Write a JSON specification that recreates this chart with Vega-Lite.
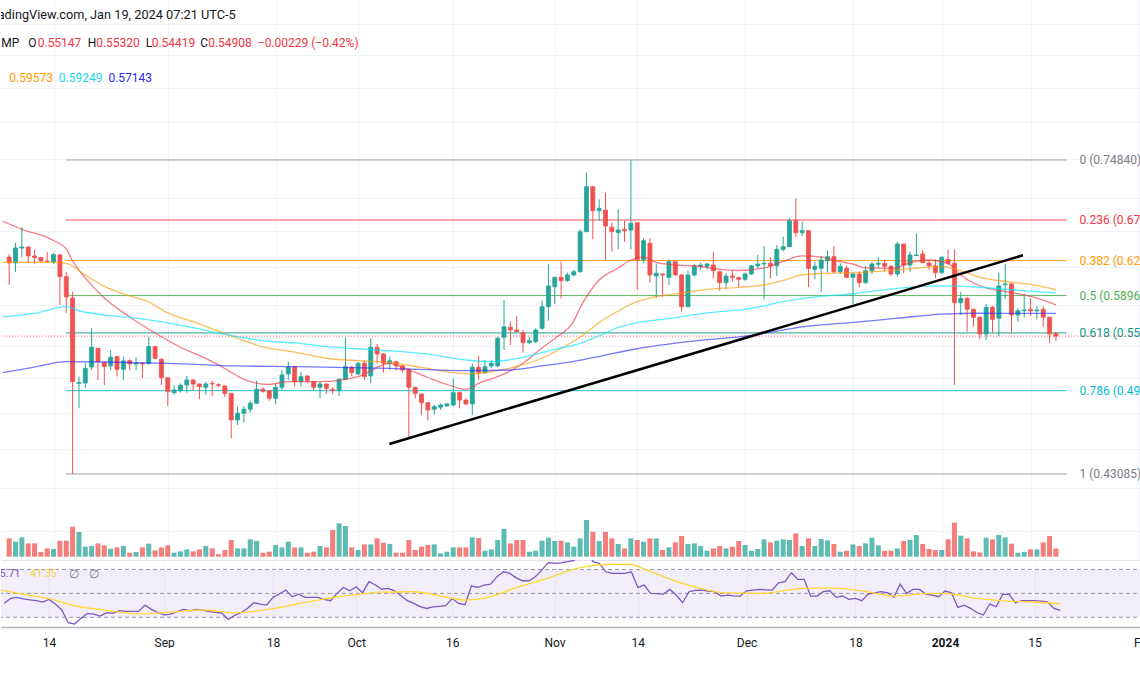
{
"$schema":"https://vega.github.io/schema/vega-lite/v6.json",
"padding":0,
"spacing":0,
"bounds":"flush",
"config":{"view":{"stroke":null},"font":"Roboto"},
"datasets":{
"candles":[
{"d":"2023-08-07","o":0.6310,"h":0.6344,"l":0.6007,"c":0.6244,"v":45.8,"r":41.8},
{"d":"2023-08-08","o":0.6244,"h":0.6468,"l":0.6146,"c":0.6411,"v":37.5,"r":45.8},
{"d":"2023-08-09","o":0.6411,"h":0.6652,"l":0.6310,"c":0.6422,"v":48.3,"r":46.7},
{"d":"2023-08-10","o":0.6422,"h":0.6434,"l":0.6244,"c":0.6322,"v":33.3,"r":45.5},
{"d":"2023-08-11","o":0.6322,"h":0.6388,"l":0.6233,"c":0.6305,"v":33.3,"r":44.5},
{"d":"2023-08-12","o":0.6305,"h":0.6310,"l":0.6255,"c":0.6266,"v":11.8,"r":43.9},
{"d":"2023-08-13","o":0.6266,"h":0.6366,"l":0.6244,"c":0.6261,"v":20.8,"r":42.7},
{"d":"2023-08-14","o":0.6255,"h":0.6355,"l":0.6233,"c":0.6338,"v":19.3,"r":45.0},
{"d":"2023-08-15","o":0.6333,"h":0.6344,"l":0.5800,"c":0.6096,"v":40,"r":41.1},
{"d":"2023-08-16","o":0.6095,"h":0.6146,"l":0.5719,"c":0.5882,"v":40,"r":36.1},
{"d":"2023-08-17","o":0.5871,"h":0.5937,"l":0.43085,"c":0.5068,"v":75,"r":25.5},
{"d":"2023-08-18","o":0.5052,"h":0.5113,"l":0.4836,"c":0.5061,"v":61.8,"r":24.3},
{"d":"2023-08-19","o":0.5056,"h":0.5237,"l":0.5012,"c":0.5188,"v":25,"r":29.1},
{"d":"2023-08-20","o":0.5200,"h":0.5567,"l":0.5173,"c":0.5384,"v":26.8,"r":33.3},
{"d":"2023-08-21","o":0.5374,"h":0.5377,"l":0.5083,"c":0.5249,"v":33.3,"r":32.7},
{"d":"2023-08-22","o":0.5240,"h":0.5249,"l":0.5038,"c":0.5203,"v":28.3,"r":31.0},
{"d":"2023-08-23","o":0.5210,"h":0.5358,"l":0.5173,"c":0.5290,"v":20,"r":33.8},
{"d":"2023-08-24","o":0.5296,"h":0.5302,"l":0.5113,"c":0.5179,"v":23.3,"r":33.3},
{"d":"2023-08-25","o":0.5179,"h":0.5296,"l":0.5083,"c":0.5256,"v":26.8,"r":35.5},
{"d":"2023-08-26","o":0.5258,"h":0.5271,"l":0.5173,"c":0.5228,"v":10,"r":34.9},
{"d":"2023-08-27","o":0.5228,"h":0.5290,"l":0.5173,"c":0.5237,"v":11.8,"r":34.9},
{"d":"2023-08-28","o":0.5237,"h":0.5240,"l":0.5098,"c":0.5228,"v":23.3,"r":34.9},
{"d":"2023-08-29","o":0.5234,"h":0.5485,"l":0.5219,"c":0.5390,"v":32.5,"r":40.2},
{"d":"2023-08-30","o":0.5390,"h":0.5395,"l":0.5271,"c":0.5281,"v":15.8,"r":36.6},
{"d":"2023-08-31","o":0.5271,"h":0.5281,"l":0.5038,"c":0.5103,"v":23.3,"r":34.0},
{"d":"2023-09-01","o":0.5103,"h":0.5108,"l":0.4856,"c":0.4979,"v":28.3,"r":32.1},
{"d":"2023-09-02","o":0.4971,"h":0.5038,"l":0.4951,"c":0.4994,"v":10,"r":32.7},
{"d":"2023-09-03","o":0.4988,"h":0.5053,"l":0.4971,"c":0.5036,"v":13.3,"r":34.7},
{"d":"2023-09-04","o":0.5038,"h":0.5119,"l":0.4971,"c":0.5083,"v":18.3,"r":36.6},
{"d":"2023-09-05","o":0.5083,"h":0.5088,"l":0.4988,"c":0.5047,"v":13.3,"r":35.5},
{"d":"2023-09-06","o":0.5047,"h":0.5053,"l":0.4913,"c":0.5023,"v":18.3,"r":36.6},
{"d":"2023-09-07","o":0.5018,"h":0.5068,"l":0.4951,"c":0.5047,"v":26.8,"r":36.1},
{"d":"2023-09-08","o":0.5053,"h":0.5077,"l":0.4942,"c":0.5047,"v":20.8,"r":34.7},
{"d":"2023-09-09","o":0.5041,"h":0.5053,"l":0.5018,"c":0.5036,"v":6.3,"r":34.2},
{"d":"2023-09-10","o":0.5030,"h":0.5034,"l":0.4931,"c":0.4965,"v":16.8,"r":33.5},
{"d":"2023-09-11","o":0.4965,"h":0.4968,"l":0.4586,"c":0.4738,"v":41.8,"r":28.2},
{"d":"2023-09-12","o":0.4738,"h":0.4850,"l":0.4696,"c":0.4794,"v":20.8,"r":31.6},
{"d":"2023-09-13","o":0.4794,"h":0.4856,"l":0.4715,"c":0.4828,"v":20.8,"r":33.8},
{"d":"2023-09-14","o":0.4828,"h":0.4901,"l":0.4799,"c":0.4879,"v":43.3,"r":37.4},
{"d":"2023-09-15","o":0.4879,"h":0.5077,"l":0.4873,"c":0.5000,"v":39.3,"r":42.2},
{"d":"2023-09-16","o":0.5000,"h":0.5018,"l":0.4971,"c":0.4983,"v":10,"r":41.0},
{"d":"2023-09-17","o":0.4988,"h":0.4990,"l":0.4901,"c":0.4922,"v":12.5,"r":40.2},
{"d":"2023-09-18","o":0.4922,"h":0.5053,"l":0.4873,"c":0.5018,"v":29.3,"r":46.7},
{"d":"2023-09-19","o":0.5018,"h":0.5173,"l":0.4994,"c":0.5128,"v":23.3,"r":49.5},
{"d":"2023-09-20","o":0.5137,"h":0.5249,"l":0.5083,"c":0.5198,"v":37.5,"r":52.8},
{"d":"2023-09-21","o":0.5203,"h":0.5210,"l":0.5023,"c":0.5068,"v":23.3,"r":47.2},
{"d":"2023-09-22","o":0.5068,"h":0.5158,"l":0.5023,"c":0.5113,"v":23.3,"r":49.4},
{"d":"2023-09-23","o":0.5119,"h":0.5122,"l":0.5053,"c":0.5077,"v":10,"r":46.7},
{"d":"2023-09-24","o":0.5068,"h":0.5070,"l":0.4988,"c":0.5018,"v":12.5,"r":46.7},
{"d":"2023-09-25","o":0.5018,"h":0.5068,"l":0.4922,"c":0.5047,"v":26.8,"r":46.7},
{"d":"2023-09-26","o":0.5047,"h":0.5053,"l":0.4959,"c":0.5009,"v":23.3,"r":45.0},
{"d":"2023-09-27","o":0.5000,"h":0.5018,"l":0.4959,"c":0.4988,"v":66.8,"r":43.9},
{"d":"2023-09-28","o":0.4988,"h":0.5098,"l":0.4942,"c":0.5089,"v":83.3,"r":50.0},
{"d":"2023-09-29","o":0.5089,"h":0.5479,"l":0.5083,"c":0.5203,"v":76.8,"r":55.0},
{"d":"2023-09-30","o":0.5198,"h":0.5210,"l":0.5119,"c":0.5149,"v":23.3,"r":52.2},
{"d":"2023-10-01","o":0.5137,"h":0.5246,"l":0.5125,"c":0.5234,"v":16.8,"r":55.6},
{"d":"2023-10-02","o":0.5234,"h":0.5258,"l":0.5083,"c":0.5113,"v":30.8,"r":50.6},
{"d":"2023-10-03","o":0.5119,"h":0.5470,"l":0.5053,"c":0.5384,"v":30.8,"r":59.8},
{"d":"2023-10-04","o":0.5384,"h":0.5415,"l":0.5234,"c":0.5321,"v":45.8,"r":57.0},
{"d":"2023-10-05","o":0.5321,"h":0.5327,"l":0.5149,"c":0.5234,"v":35,"r":53.5},
{"d":"2023-10-06","o":0.5234,"h":0.5296,"l":0.5173,"c":0.5258,"v":31.8,"r":54.2},
{"d":"2023-10-07","o":0.5249,"h":0.5258,"l":0.5167,"c":0.5210,"v":10,"r":52.2},
{"d":"2023-10-08","o":0.5210,"h":0.5219,"l":0.5149,"c":0.5173,"v":10,"r":48.0},
{"d":"2023-10-09","o":0.5173,"h":0.5188,"l":0.4596,"c":0.5018,"v":41.8,"r":43.9},
{"d":"2023-10-10","o":0.5018,"h":0.5020,"l":0.4922,"c":0.4965,"v":16.8,"r":41.6},
{"d":"2023-10-11","o":0.4959,"h":0.4961,"l":0.4780,"c":0.4884,"v":25,"r":39.0},
{"d":"2023-10-12","o":0.4884,"h":0.4886,"l":0.4732,"c":0.4822,"v":29.3,"r":37.4},
{"d":"2023-10-13","o":0.4828,"h":0.4864,"l":0.4780,"c":0.4850,"v":30.8,"r":38.8},
{"d":"2023-10-14","o":0.4845,"h":0.4879,"l":0.4822,"c":0.4864,"v":8.3,"r":39.2},
{"d":"2023-10-15","o":0.4856,"h":0.4884,"l":0.4850,"c":0.4873,"v":12.5,"r":39.7},
{"d":"2023-10-16","o":0.4864,"h":0.5098,"l":0.4850,"c":0.4971,"v":23.3,"r":45.8},
{"d":"2023-10-17","o":0.4971,"h":0.4979,"l":0.4836,"c":0.4907,"v":23.3,"r":41.6},
{"d":"2023-10-18","o":0.4907,"h":0.4922,"l":0.4864,"c":0.4873,"v":23.3,"r":40.5},
{"d":"2023-10-19","o":0.4873,"h":0.5234,"l":0.4780,"c":0.5198,"v":48.3,"r":56.1},
{"d":"2023-10-20","o":0.5198,"h":0.5302,"l":0.5083,"c":0.5149,"v":46.8,"r":55.0},
{"d":"2023-10-21","o":0.5149,"h":0.5265,"l":0.5137,"c":0.5203,"v":15,"r":57.0},
{"d":"2023-10-22","o":0.5210,"h":0.5265,"l":0.5188,"c":0.5234,"v":18.3,"r":57.8},
{"d":"2023-10-23","o":0.5210,"h":0.5485,"l":0.5198,"c":0.5470,"v":41.8,"r":64.0},
{"d":"2023-10-24","o":0.5479,"h":0.5851,"l":0.5358,"c":0.5582,"v":69.3,"r":68.1},
{"d":"2023-10-25","o":0.5577,"h":0.5632,"l":0.5406,"c":0.5550,"v":33.3,"r":66.7},
{"d":"2023-10-26","o":0.5550,"h":0.5689,"l":0.5530,"c":0.5533,"v":41.8,"r":63.0},
{"d":"2023-10-27","o":0.5524,"h":0.5550,"l":0.5333,"c":0.5428,"v":41.8,"r":60.6},
{"d":"2023-10-28","o":0.5428,"h":0.5485,"l":0.5415,"c":0.5447,"v":12.5,"r":60.6},
{"d":"2023-10-29","o":0.5437,"h":0.5567,"l":0.5422,"c":0.5550,"v":15,"r":63.9},
{"d":"2023-10-30","o":0.5567,"h":0.5843,"l":0.5550,"c":0.5782,"v":40,"r":69.5},
{"d":"2023-10-31","o":0.5782,"h":0.6233,"l":0.5642,"c":0.5997,"v":47.5,"r":75.7},
{"d":"2023-11-01","o":0.5989,"h":0.6096,"l":0.5810,"c":0.6089,"v":39.3,"r":75.1},
{"d":"2023-11-02","o":0.6089,"h":0.6258,"l":0.5868,"c":0.6053,"v":40,"r":75.5},
{"d":"2023-11-03","o":0.6053,"h":0.6139,"l":0.6042,"c":0.6114,"v":35.8,"r":76.5},
{"d":"2023-11-04","o":0.6114,"h":0.6168,"l":0.6096,"c":0.6149,"v":25,"r":77.5},
{"d":"2023-11-05","o":0.6149,"h":0.6625,"l":0.6139,"c":0.6598,"v":45.8,"r":82.0},
{"d":"2023-11-06","o":0.6598,"h":0.7319,"l":0.6590,"c":0.7141,"v":91.8,"r":86.0},
{"d":"2023-11-07","o":0.7141,"h":0.7150,"l":0.6510,"c":0.6846,"v":62.5,"r":76.5},
{"d":"2023-11-08","o":0.6846,"h":0.6984,"l":0.6726,"c":0.6875,"v":39.3,"r":75.1},
{"d":"2023-11-09","o":0.6854,"h":0.7066,"l":0.6277,"c":0.6664,"v":62.5,"r":68.1},
{"d":"2023-11-10","o":0.6649,"h":0.6703,"l":0.6370,"c":0.6598,"v":45.8,"r":66.7},
{"d":"2023-11-11","o":0.6586,"h":0.6863,"l":0.6396,"c":0.6617,"v":31.8,"r":66.7},
{"d":"2023-11-12","o":0.6625,"h":0.6726,"l":0.6482,"c":0.6609,"v":20.8,"r":66.7},
{"d":"2023-11-13","o":0.6617,"h":0.7484,"l":0.6396,"c":0.6696,"v":45.8,"r":68.1},
{"d":"2023-11-14","o":0.6703,"h":0.6705,"l":0.5954,"c":0.6277,"v":41.8,"r":55.0},
{"d":"2023-11-15","o":0.6277,"h":0.6521,"l":0.6241,"c":0.6494,"v":37.5,"r":57.0},
{"d":"2023-11-16","o":0.6464,"h":0.6521,"l":0.6032,"c":0.6114,"v":45.8,"r":50.0},
{"d":"2023-11-17","o":0.6103,"h":0.6233,"l":0.5868,"c":0.6132,"v":45.8,"r":49.8},
{"d":"2023-11-18","o":0.6125,"h":0.6132,"l":0.5885,"c":0.6114,"v":16.8,"r":49.4},
{"d":"2023-11-19","o":0.6089,"h":0.6285,"l":0.6007,"c":0.6258,"v":23.3,"r":53.3},
{"d":"2023-11-20","o":0.6258,"h":0.6260,"l":0.6103,"c":0.6114,"v":35.8,"r":48.6},
{"d":"2023-11-21","o":0.6114,"h":0.6125,"l":0.5732,"c":0.5782,"v":51.8,"r":42.2},
{"d":"2023-11-22","o":0.5782,"h":0.6160,"l":0.5780,"c":0.6114,"v":31.8,"r":51.4},
{"d":"2023-11-23","o":0.6114,"h":0.6233,"l":0.6096,"c":0.6213,"v":33.3,"r":52.5},
{"d":"2023-11-24","o":0.6207,"h":0.6247,"l":0.6168,"c":0.6222,"v":26.8,"r":52.8},
{"d":"2023-11-25","o":0.6207,"h":0.6247,"l":0.6175,"c":0.6233,"v":15,"r":52.0},
{"d":"2023-11-26","o":0.6222,"h":0.6370,"l":0.6078,"c":0.6160,"v":20.8,"r":51.4},
{"d":"2023-11-27","o":0.6149,"h":0.6160,"l":0.5947,"c":0.6032,"v":26.8,"r":47.8},
{"d":"2023-11-28","o":0.6032,"h":0.6132,"l":0.5962,"c":0.6103,"v":20.8,"r":48.6},
{"d":"2023-11-29","o":0.6103,"h":0.6160,"l":0.6042,"c":0.6089,"v":25,"r":48.0},
{"d":"2023-11-30","o":0.6085,"h":0.6096,"l":0.5983,"c":0.6068,"v":39.3,"r":47.8},
{"d":"2023-12-01","o":0.6068,"h":0.6139,"l":0.6053,"c":0.6125,"v":29.3,"r":52.2},
{"d":"2023-12-02","o":0.6125,"h":0.6222,"l":0.6114,"c":0.6213,"v":15,"r":52.8},
{"d":"2023-12-03","o":0.6213,"h":0.6333,"l":0.6186,"c":0.6233,"v":19.3,"r":53.3},
{"d":"2023-12-04","o":0.6233,"h":0.6434,"l":0.5858,"c":0.6241,"v":43.3,"r":53.0},
{"d":"2023-12-05","o":0.6241,"h":0.6308,"l":0.6078,"c":0.6213,"v":35.8,"r":52.8},
{"d":"2023-12-06","o":0.6213,"h":0.6445,"l":0.6103,"c":0.6396,"v":40,"r":58.9},
{"d":"2023-12-07","o":0.6396,"h":0.6540,"l":0.6370,"c":0.6426,"v":43.3,"r":59.8},
{"d":"2023-12-08","o":0.6426,"h":0.6755,"l":0.6419,"c":0.6726,"v":41.8,"r":67.3},
{"d":"2023-12-09","o":0.6726,"h":0.6997,"l":0.6533,"c":0.6586,"v":58.3,"r":61.7},
{"d":"2023-12-10","o":0.6586,"h":0.6715,"l":0.6548,"c":0.6609,"v":26.8,"r":61.7},
{"d":"2023-12-11","o":0.6609,"h":0.6611,"l":0.5983,"c":0.6186,"v":45.8,"r":47.8},
{"d":"2023-12-12","o":0.6175,"h":0.6258,"l":0.6068,"c":0.6207,"v":26.8,"r":47.8},
{"d":"2023-12-13","o":0.6186,"h":0.6322,"l":0.5937,"c":0.6277,"v":44.3,"r":51.4},
{"d":"2023-12-14","o":0.6269,"h":0.6381,"l":0.6139,"c":0.6314,"v":40.8,"r":52.2},
{"d":"2023-12-15","o":0.6314,"h":0.6434,"l":0.6132,"c":0.6149,"v":31.8,"r":46.7},
{"d":"2023-12-16","o":0.6149,"h":0.6241,"l":0.6125,"c":0.6207,"v":12.5,"r":47.8},
{"d":"2023-12-17","o":0.6186,"h":0.6213,"l":0.6078,"c":0.6089,"v":15,"r":45.0},
{"d":"2023-12-18","o":0.6089,"h":0.6132,"l":0.5810,"c":0.6125,"v":30.8,"r":45.8},
{"d":"2023-12-19","o":0.6125,"h":0.6149,"l":0.5983,"c":0.6032,"v":26.8,"r":43.9},
{"d":"2023-12-20","o":0.6032,"h":0.6213,"l":0.6018,"c":0.6160,"v":33.3,"r":49.4},
{"d":"2023-12-21","o":0.6160,"h":0.6258,"l":0.6125,"c":0.6233,"v":47.5,"r":50.5},
{"d":"2023-12-22","o":0.6230,"h":0.6307,"l":0.6186,"c":0.6241,"v":28.3,"r":51.4},
{"d":"2023-12-23","o":0.6241,"h":0.6285,"l":0.6149,"c":0.6207,"v":15,"r":50.6},
{"d":"2023-12-24","o":0.6207,"h":0.6222,"l":0.6103,"c":0.6125,"v":15,"r":46.7},
{"d":"2023-12-25","o":0.6125,"h":0.6482,"l":0.6096,"c":0.6456,"v":20.8,"r":57.8},
{"d":"2023-12-26","o":0.6456,"h":0.6458,"l":0.6132,"c":0.6222,"v":39.3,"r":50.0},
{"d":"2023-12-27","o":0.6222,"h":0.6370,"l":0.6149,"c":0.6333,"v":41.8,"r":53.3},
{"d":"2023-12-28","o":0.6325,"h":0.6578,"l":0.6322,"c":0.6333,"v":54.3,"r":53.3},
{"d":"2023-12-29","o":0.6344,"h":0.6388,"l":0.6241,"c":0.6248,"v":31.8,"r":49.4},
{"d":"2023-12-30","o":0.6244,"h":0.6277,"l":0.6168,"c":0.6213,"v":19.3,"r":48.6},
{"d":"2023-12-31","o":0.6213,"h":0.6285,"l":0.6078,"c":0.6139,"v":16.8,"r":47.2},
{"d":"2024-01-01","o":0.6139,"h":0.6316,"l":0.6125,"c":0.6308,"v":16.8,"r":52.0},
{"d":"2024-01-02","o":0.6285,"h":0.6396,"l":0.6222,"c":0.6241,"v":43.3,"r":50.6},
{"d":"2024-01-03","o":0.6241,"h":0.6396,"l":0.5038,"c":0.5823,"v":85,"r":38.3},
{"d":"2024-01-04","o":0.5823,"h":0.5934,"l":0.5699,"c":0.5868,"v":52.5,"r":40.2},
{"d":"2024-01-05","o":0.5868,"h":0.5879,"l":0.5533,"c":0.5756,"v":45.8,"r":37.5},
{"d":"2024-01-06","o":0.5756,"h":0.5758,"l":0.5582,"c":0.5676,"v":13.3,"r":34.0},
{"d":"2024-01-07","o":0.5676,"h":0.5682,"l":0.5460,"c":0.5511,"v":10.8,"r":31.9},
{"d":"2024-01-08","o":0.5511,"h":0.5810,"l":0.5453,"c":0.5776,"v":47.5,"r":41.1},
{"d":"2024-01-09","o":0.5776,"h":0.5789,"l":0.5524,"c":0.5655,"v":43.3,"r":38.8},
{"d":"2024-01-10","o":0.5666,"h":0.6139,"l":0.5492,"c":0.5997,"v":54.3,"r":49.2},
{"d":"2024-01-11","o":0.6010,"h":0.6233,"l":0.5858,"c":0.6018,"v":48.3,"r":49.2},
{"d":"2024-01-12","o":0.6018,"h":0.6025,"l":0.5518,"c":0.5699,"v":32.5,"r":42.2},
{"d":"2024-01-13","o":0.5699,"h":0.5766,"l":0.5632,"c":0.5741,"v":10,"r":43.9},
{"d":"2024-01-14","o":0.5741,"h":0.5913,"l":0.5676,"c":0.5749,"v":11.8,"r":43.9},
{"d":"2024-01-15","o":0.5756,"h":0.5868,"l":0.5689,"c":0.5741,"v":18.3,"r":43.9},
{"d":"2024-01-16","o":0.5741,"h":0.5789,"l":0.5655,"c":0.5749,"v":18.3,"r":43.5},
{"d":"2024-01-17","o":0.5756,"h":0.5789,"l":0.5582,"c":0.5676,"v":35.8,"r":43.0},
{"d":"2024-01-18","o":0.5676,"h":0.5682,"l":0.5422,"c":0.5511,"v":51.8,"r":37.4},
{"d":"2024-01-19","o":0.55147,"h":0.55320,"l":0.54419,"c":0.54908,"v":20.8,"r":35.7}
],
"ma":[
{"d":"2023-08-06","m":"ma1","p":0.6720},{"d":"2023-08-09","m":"ma1","p":0.6625},{"d":"2023-08-14","m":"ma1","p":0.6496},{"d":"2023-08-16","m":"ma1","p":0.6400},{"d":"2023-08-17","m":"ma1","p":0.6266},{"d":"2023-08-19","m":"ma1","p":0.6082},{"d":"2023-08-22","m":"ma1","p":0.5871},{"d":"2023-08-26","m":"ma1","p":0.5679},{"d":"2023-08-30","m":"ma1","p":0.5521},{"d":"2023-09-03","m":"ma1","p":0.5384},{"d":"2023-09-07","m":"ma1","p":0.5279},{"d":"2023-09-10","m":"ma1","p":0.5187},{"d":"2023-09-13","m":"ma1","p":0.5089},{"d":"2023-09-17","m":"ma1","p":0.5043},{"d":"2023-09-20","m":"ma1","p":0.5069},{"d":"2023-09-25","m":"ma1","p":0.5068},{"d":"2023-10-01","m":"ma1","p":0.5113},{"d":"2023-10-06","m":"ma1","p":0.5233},{"d":"2023-10-08","m":"ma1","p":0.5198},{"d":"2023-10-12","m":"ma1","p":0.5105},{"d":"2023-10-15","m":"ma1","p":0.5043},{"d":"2023-10-18","m":"ma1","p":0.5000},{"d":"2023-10-20","m":"ma1","p":0.5053},{"d":"2023-10-23","m":"ma1","p":0.5113},{"d":"2023-10-27","m":"ma1","p":0.5234},{"d":"2023-10-30","m":"ma1","p":0.5377},{"d":"2023-11-01","m":"ma1","p":0.5468},{"d":"2023-11-04","m":"ma1","p":0.5639},{"d":"2023-11-05","m":"ma1","p":0.5769},{"d":"2023-11-06","m":"ma1","p":0.5882},{"d":"2023-11-08","m":"ma1","p":0.6060},{"d":"2023-11-11","m":"ma1","p":0.6190},{"d":"2023-11-13","m":"ma1","p":0.6277},{"d":"2023-11-15","m":"ma1","p":0.6308},{"d":"2023-11-17","m":"ma1","p":0.6250},{"d":"2023-11-20","m":"ma1","p":0.6222},{"d":"2023-11-23","m":"ma1","p":0.6211},{"d":"2023-11-27","m":"ma1","p":0.6175},{"d":"2023-11-30","m":"ma1","p":0.6162},{"d":"2023-12-04","m":"ma1","p":0.6190},{"d":"2023-12-07","m":"ma1","p":0.6261},{"d":"2023-12-10","m":"ma1","p":0.6322},{"d":"2023-12-13","m":"ma1","p":0.6308},{"d":"2023-12-16","m":"ma1","p":0.6258},{"d":"2023-12-18","m":"ma1","p":0.6233},{"d":"2023-12-20","m":"ma1","p":0.6190},{"d":"2023-12-24","m":"ma1","p":0.6186},{"d":"2023-12-28","m":"ma1","p":0.6266},{"d":"2023-12-30","m":"ma1","p":0.6277},{"d":"2024-01-02","m":"ma1","p":0.6241},{"d":"2024-01-04","m":"ma1","p":0.6114},{"d":"2024-01-06","m":"ma1","p":0.6028},{"d":"2024-01-08","m":"ma1","p":0.5976},{"d":"2024-01-11","m":"ma1","p":0.5939},{"d":"2024-01-14","m":"ma1","p":0.5903},{"d":"2024-01-16","m":"ma1","p":0.5871},{"d":"2024-01-19","m":"ma1","p":0.5800},
{"d":"2023-08-06","m":"ma2","p":0.6250},{"d":"2023-08-14","m":"ma2","p":0.6250},{"d":"2023-08-16","m":"ma2","p":0.6239},{"d":"2023-08-19","m":"ma2","p":0.6114},{"d":"2023-08-22","m":"ma2","p":0.5993},{"d":"2023-08-26","m":"ma2","p":0.5892},{"d":"2023-08-29","m":"ma2","p":0.5830},{"d":"2023-09-01","m":"ma2","p":0.5719},{"d":"2023-09-05","m":"ma2","p":0.5632},{"d":"2023-09-09","m":"ma2","p":0.5538},{"d":"2023-09-12","m":"ma2","p":0.5470},{"d":"2023-09-16","m":"ma2","p":0.5387},{"d":"2023-09-21","m":"ma2","p":0.5339},{"d":"2023-09-26","m":"ma2","p":0.5281},{"d":"2023-10-01","m":"ma2","p":0.5258},{"d":"2023-10-06","m":"ma2","p":0.5242},{"d":"2023-10-11","m":"ma2","p":0.5196},{"d":"2023-10-16","m":"ma2","p":0.5149},{"d":"2023-10-19","m":"ma2","p":0.5137},{"d":"2023-10-22","m":"ma2","p":0.5158},{"d":"2023-10-26","m":"ma2","p":0.5205},{"d":"2023-10-30","m":"ma2","p":0.5281},{"d":"2023-11-02","m":"ma2","p":0.5372},{"d":"2023-11-05","m":"ma2","p":0.5482},{"d":"2023-11-08","m":"ma2","p":0.5624},{"d":"2023-11-11","m":"ma2","p":0.5739},{"d":"2023-11-14","m":"ma2","p":0.5833},{"d":"2023-11-17","m":"ma2","p":0.5885},{"d":"2023-11-21","m":"ma2","p":0.5923},{"d":"2023-11-25","m":"ma2","p":0.5960},{"d":"2023-11-30","m":"ma2","p":0.5983},{"d":"2023-12-04","m":"ma2","p":0.6007},{"d":"2023-12-07","m":"ma2","p":0.6055},{"d":"2023-12-10","m":"ma2","p":0.6114},{"d":"2023-12-14","m":"ma2","p":0.6132},{"d":"2023-12-18","m":"ma2","p":0.6139},{"d":"2023-12-25","m":"ma2","p":0.6168},{"d":"2024-01-01","m":"ma2","p":0.6207},{"d":"2024-01-04","m":"ma2","p":0.6159},{"d":"2024-01-07","m":"ma2","p":0.6092},{"d":"2024-01-11","m":"ma2","p":0.6044},{"d":"2024-01-15","m":"ma2","p":0.6013},{"d":"2024-01-19","m":"ma2","p":0.5957},
{"d":"2023-08-06","m":"ma3","p":0.5679},{"d":"2023-08-11","m":"ma3","p":0.5714},{"d":"2023-08-16","m":"ma3","p":0.5782},{"d":"2023-08-18","m":"ma3","p":0.5741},{"d":"2023-08-22","m":"ma3","p":0.5699},{"d":"2023-08-27","m":"ma3","p":0.5667},{"d":"2023-09-01","m":"ma3","p":0.5619},{"d":"2023-09-07","m":"ma3","p":0.5547},{"d":"2023-09-12","m":"ma3","p":0.5485},{"d":"2023-09-17","m":"ma3","p":0.5439},{"d":"2023-09-21","m":"ma3","p":0.5426},{"d":"2023-09-26","m":"ma3","p":0.5390},{"d":"2023-10-04","m":"ma3","p":0.5358},{"d":"2023-10-12","m":"ma3","p":0.5319},{"d":"2023-10-18","m":"ma3","p":0.5265},{"d":"2023-10-22","m":"ma3","p":0.5249},{"d":"2023-10-27","m":"ma3","p":0.5290},{"d":"2023-11-01","m":"ma3","p":0.5365},{"d":"2023-11-05","m":"ma3","p":0.5422},{"d":"2023-11-08","m":"ma3","p":0.5492},{"d":"2023-11-11","m":"ma3","p":0.5575},{"d":"2023-11-14","m":"ma3","p":0.5622},{"d":"2023-11-19","m":"ma3","p":0.5663},{"d":"2023-11-25","m":"ma3","p":0.5719},{"d":"2023-12-02","m":"ma3","p":0.5766},{"d":"2023-12-07","m":"ma3","p":0.5833},{"d":"2023-12-12","m":"ma3","p":0.5882},{"d":"2023-12-18","m":"ma3","p":0.5915},{"d":"2023-12-25","m":"ma3","p":0.5972},{"d":"2024-01-01","m":"ma3","p":0.5997},{"d":"2024-01-07","m":"ma3","p":0.5983},{"d":"2024-01-13","m":"ma3","p":0.5951},{"d":"2024-01-19","m":"ma3","p":0.5925},
{"d":"2023-08-06","m":"ma4","p":0.5150},{"d":"2023-08-11","m":"ma4","p":0.5200},{"d":"2023-08-16","m":"ma4","p":0.5249},{"d":"2023-08-22","m":"ma4","p":0.5246},{"d":"2023-09-01","m":"ma4","p":0.5234},{"d":"2023-09-12","m":"ma4","p":0.5210},{"d":"2023-09-21","m":"ma4","p":0.5203},{"d":"2023-10-06","m":"ma4","p":0.5188},{"d":"2023-10-18","m":"ma4","p":0.5167},{"d":"2023-10-25","m":"ma4","p":0.5173},{"d":"2023-10-30","m":"ma4","p":0.5210},{"d":"2023-11-04","m":"ma4","p":0.5251},{"d":"2023-11-09","m":"ma4","p":0.5311},{"d":"2023-11-14","m":"ma4","p":0.5370},{"d":"2023-11-22","m":"ma4","p":0.5437},{"d":"2023-12-02","m":"ma4","p":0.5497},{"d":"2023-12-10","m":"ma4","p":0.5580},{"d":"2023-12-18","m":"ma4","p":0.5624},{"d":"2023-12-25","m":"ma4","p":0.5666},{"d":"2024-01-01","m":"ma4","p":0.5707},{"d":"2024-01-07","m":"ma4","p":0.5716},{"d":"2024-01-13","m":"ma4","p":0.5714},{"d":"2024-01-19","m":"ma4","p":0.5714}
],
"rsima":[
{"d":"2023-08-06","r":53.2},{"d":"2023-08-11","r":48.4},{"d":"2023-08-14","r":45.6},{"d":"2023-08-18","r":39.5},{"d":"2023-08-22","r":36.6},{"d":"2023-08-28","r":32.8},{"d":"2023-09-03","r":34.8},{"d":"2023-09-07","r":36.1},{"d":"2023-09-12","r":33.8},{"d":"2023-09-18","r":37.2},{"d":"2023-09-25","r":44.4},{"d":"2023-09-28","r":47.0},{"d":"2023-10-02","r":49.6},{"d":"2023-10-05","r":51.1},{"d":"2023-10-10","r":51.4},{"d":"2023-10-15","r":47.0},{"d":"2023-10-18","r":44.4},{"d":"2023-10-21","r":46.0},{"d":"2023-10-26","r":54.8},{"d":"2023-10-31","r":62.8},{"d":"2023-11-05","r":71.6},{"d":"2023-11-10","r":74.4},{"d":"2023-11-13","r":74.2},{"d":"2023-11-15","r":70.4},{"d":"2023-11-21","r":58.3},{"d":"2023-11-23","r":55.3},{"d":"2023-11-28","r":50.4},{"d":"2023-12-03","r":50.0},{"d":"2023-12-10","r":54.2},{"d":"2023-12-14","r":54.6},{"d":"2023-12-19","r":52.1},{"d":"2023-12-24","r":47.8},{"d":"2023-12-29","r":49.8},{"d":"2024-01-01","r":50.0},{"d":"2024-01-06","r":45.8},{"d":"2024-01-10","r":43.8},{"d":"2024-01-14","r":43.0},{"d":"2024-01-19","r":41.35}
],
"fib":[
{"lvl":"0","p":0.74840,"lab":"0 (0.74840)"},
{"lvl":"0.236","p":0.67346,"lab":"0.236 (0.67346)"},
{"lvl":"0.382","p":0.62709,"lab":"0.382 (0.62709)"},
{"lvl":"0.5","p":0.58963,"lab":"0.5 (0.58963)"},
{"lvl":"0.618","p":0.55216,"lab":"0.618 (0.55216)"},
{"lvl":"0.786","p":0.49881,"lab":"0.786 (0.49881)"},
{"lvl":"1","p":0.43085,"lab":"1 (0.43085)"}
],
"trend":[{"d":"2023-10-05T22:05:00Z","p":0.4542},{"d":"2024-01-13T19:26:00Z","p":0.6329}]
},
"vconcat":[
{
"width":1143,"height":560,
"resolve":{"scale":{"y":"independent"}},
"layer":[
{
"data":{"name":"candles"},
"mark":{"type":"bar","width":5,"opacity":0.75,"clip":true},
"encoding":{
"x":{"field":"d","type":"temporal","scale":{"type":"utc","domain":[{"year":2023,"month":8,"date":6,"hours":12,"utc":true},{"year":2024,"month":2,"date":1,"hours":2,"minutes":15,"utc":true}]},
"axis":{"values":[{"year":2023,"month":8,"date":14,"utc":true},{"year":2023,"month":9,"date":1,"utc":true},{"year":2023,"month":9,"date":18,"utc":true},{"year":2023,"month":10,"date":1,"utc":true},{"year":2023,"month":10,"date":16,"utc":true},{"year":2023,"month":11,"date":1,"utc":true},{"year":2023,"month":11,"date":14,"utc":true},{"year":2023,"month":12,"date":1,"utc":true},{"year":2023,"month":12,"date":18,"utc":true},{"year":2024,"month":1,"date":1,"utc":true},{"year":2024,"month":1,"date":15,"utc":true},{"year":2024,"month":2,"date":1,"utc":true}],"grid":true,"gridColor":"#f0f3fa","labels":false,"ticks":false,"domain":true,"domainColor":"#e0e3eb","title":null,"minExtent":0,"maxExtent":0}},
"y":{"field":"v","type":"quantitative","scale":{"domain":[-8.25,1391.75],"nice":false,"zero":false},"axis":null,"stack":null},
"y2":{"datum":0},
"color":{"condition":{"test":"datum.c >= datum.o","value":"#26a69a"},"value":"#ef5350"}
}
},
{
"resolve":{"scale":{"color":"independent"}},
"layer":[
{
"data":{"name":"fib"},
"mark":{"type":"rule","strokeWidth":1,"opacity":0.9,"clip":true},
"encoding":{
"x":{"datum":{"year":2023,"month":8,"date":15,"hours":22,"minutes":8,"utc":true},"type":"temporal"},
"x2":{"datum":{"year":2024,"month":1,"date":20,"hours":16,"minutes":30,"utc":true}},
"y":{"field":"p","type":"quantitative","scale":{"type":"log","domain":[0.37035,0.9916],"nice":false,"zero":false},
"axis":{"values":[0.39,0.42,0.45,0.48,0.51,0.54,0.58,0.62,0.66,0.70,0.75,0.80,0.85,0.90,0.95],"grid":true,"gridColor":"#f0f3fa","labels":false,"ticks":false,"domain":false,"title":null,"orient":"right","minExtent":0,"maxExtent":0}},
"color":{"field":"lvl","type":"nominal","scale":{"domain":["0","0.236","0.382","0.5","0.618","0.786","1"],"range":["#9598a1","#f23645","#ff9800","#4caf50","#089981","#00bcd4","#9598a1"]},"legend":null}
}
},
{
"data":{"name":"fib"},
"mark":{"type":"text","align":"left","baseline":"middle","fontSize":12,"clip":true},
"encoding":{
"x":{"datum":{"year":2024,"month":1,"date":22,"hours":17,"minutes":15,"utc":true},"type":"temporal"},
"y":{"field":"p","type":"quantitative"},
"text":{"field":"lab"},
"color":{"field":"lvl","type":"nominal","scale":{"domain":["0","0.236","0.382","0.5","0.618","0.786","1"],"range":["#787b86","#f23645","#ff9800","#4caf50","#089981","#00bcd4","#787b86"]},"legend":null}
}
},
{
"data":{"values":[{}]},
"mark":{"type":"rule","color":"#f23645","strokeDash":[1,2],"strokeWidth":1,"opacity":0.8},
"encoding":{"y":{"datum":0.54908}}
},
{
"data":{"name":"candles"},
"mark":{"type":"rule","strokeWidth":1,"clip":true},
"encoding":{
"x":{"field":"d","type":"temporal"},
"y":{"field":"l","type":"quantitative"},
"y2":{"field":"h"},
"color":{"condition":{"test":"datum.c >= datum.o","value":"#26a69a"},"value":"#ef5350"}
}
},
{
"data":{"name":"candles"},
"mark":{"type":"bar","width":4,"strokeWidth":0.8,"clip":true},
"encoding":{
"x":{"field":"d","type":"temporal"},
"y":{"field":"o","type":"quantitative"},
"y2":{"field":"c"},
"fill":{"condition":{"test":"datum.c >= datum.o","value":"#26a69a"},"value":"#ef5350"},
"stroke":{"condition":{"test":"datum.c >= datum.o","value":"#26a69a"},"value":"#ef5350"}
}
},
{
"data":{"name":"ma"},
"mark":{"type":"line","strokeWidth":1.3,"opacity":0.65,"interpolate":"monotone","clip":true},
"encoding":{
"x":{"field":"d","type":"temporal"},
"y":{"field":"p","type":"quantitative"},
"color":{"field":"m","type":"nominal","scale":{"domain":["ma1","ma2","ma3","ma4"],"range":["#f23645","#ff9800","#00e5ff","#2e2eff"]},"legend":null}
}
},
{
"data":{"name":"trend"},
"mark":{"type":"line","color":"#000000","strokeWidth":2.5,"clip":true},
"encoding":{
"x":{"field":"d","type":"temporal"},
"y":{"field":"p","type":"quantitative"}
}
},
{
"data":{"values":[{}]},
"mark":{"type":"text","text":"TradingView.com, Jan 19, 2024 07:21 UTC-5","align":"right","baseline":"middle","fontSize":12.75,"color":"#131722","clip":true},
"encoding":{"x":{"datum":{"year":2023,"month":9,"date":11,"hours":16,"minutes":53,"utc":true},"type":"temporal"},"y":{"datum":0.96579}}
},
{
"data":{"values":[{}]},
"mark":{"type":"text","text":"BITSTAMP","align":"right","baseline":"middle","fontSize":12,"color":"#131722","clip":true},
"encoding":{"x":{"datum":{"year":2023,"month":8,"date":8,"hours":14,"minutes":38,"utc":true},"type":"temporal"},"y":{"datum":0.9189}}
},
{
"data":{"values":[{}]},
"mark":{"type":"text","text":"O","align":"left","baseline":"middle","fontSize":12,"color":"#131722","clip":true},
"encoding":{"x":{"datum":{"year":2023,"month":8,"date":10,"hours":0,"minutes":23,"utc":true},"type":"temporal"},"y":{"datum":0.9189}}
},
{
"data":{"values":[{}]},
"mark":{"type":"text","text":"0.55147","align":"left","baseline":"middle","fontSize":12,"color":"#f23645","clip":true},
"encoding":{"x":{"datum":{"year":2023,"month":8,"date":11,"hours":12,"utc":true},"type":"temporal"},"y":{"datum":0.9189}}
},
{
"data":{"values":[{}]},
"mark":{"type":"text","text":"H","align":"left","baseline":"middle","fontSize":12,"color":"#131722","clip":true},
"encoding":{"x":{"datum":{"year":2023,"month":8,"date":19,"hours":9,"minutes":22,"utc":true},"type":"temporal"},"y":{"datum":0.9189}}
},
{
"data":{"values":[{}]},
"mark":{"type":"text","text":"0.55320","align":"left","baseline":"middle","fontSize":12,"color":"#f23645","clip":true},
"encoding":{"x":{"datum":{"year":2023,"month":8,"date":20,"hours":17,"minutes":15,"utc":true},"type":"temporal"},"y":{"datum":0.9189}}
},
{
"data":{"values":[{}]},
"mark":{"type":"text","text":"L","align":"left","baseline":"middle","fontSize":12,"color":"#131722","clip":true},
"encoding":{"x":{"datum":{"year":2023,"month":8,"date":28,"hours":12,"minutes":45,"utc":true},"type":"temporal"},"y":{"datum":0.9189}}
},
{
"data":{"values":[{}]},
"mark":{"type":"text","text":"0.54419","align":"left","baseline":"middle","fontSize":12,"color":"#f23645","clip":true},
"encoding":{"x":{"datum":{"year":2023,"month":8,"date":29,"hours":11,"minutes":15,"utc":true},"type":"temporal"},"y":{"datum":0.9189}}
},
{
"data":{"values":[{}]},
"mark":{"type":"text","text":"C","align":"left","baseline":"middle","fontSize":12,"color":"#131722","clip":true},
"encoding":{"x":{"datum":{"year":2023,"month":9,"date":6,"hours":3,"utc":true},"type":"temporal"},"y":{"datum":0.9189}}
},
{
"data":{"values":[{}]},
"mark":{"type":"text","text":"0.54908","align":"left","baseline":"middle","fontSize":12,"color":"#f23645","clip":true},
"encoding":{"x":{"datum":{"year":2023,"month":9,"date":7,"hours":9,"utc":true},"type":"temporal"},"y":{"datum":0.9189}}
},
{
"data":{"values":[{}]},
"mark":{"type":"text","text":"−0.00229 (−0.42%)","align":"left","baseline":"middle","fontSize":12,"color":"#f23645","clip":true},
"encoding":{"x":{"datum":{"year":2023,"month":9,"date":15,"hours":4,"minutes":30,"utc":true},"type":"temporal"},"y":{"datum":0.9189}}
},
{
"data":{"values":[{}]},
"mark":{"type":"text","text":"0.59573","align":"left","baseline":"middle","fontSize":12,"color":"#ff9800","clip":true},
"encoding":{"x":{"datum":{"year":2023,"month":8,"date":7,"hours":0,"minutes":23,"utc":true},"type":"temporal"},"y":{"datum":0.86404}}
},
{
"data":{"values":[{}]},
"mark":{"type":"text","text":"0.59249","align":"left","baseline":"middle","fontSize":12,"color":"#22d3ee","clip":true},
"encoding":{"x":{"datum":{"year":2023,"month":8,"date":14,"hours":19,"minutes":53,"utc":true},"type":"temporal"},"y":{"datum":0.86404}}
},
{
"data":{"values":[{}]},
"mark":{"type":"text","text":"0.57143","align":"left","baseline":"middle","fontSize":12,"color":"#2828ff","clip":true},
"encoding":{"x":{"datum":{"year":2023,"month":8,"date":22,"hours":15,"minutes":23,"utc":true},"type":"temporal"},"y":{"datum":0.86404}}
}
]
}
]
},
{
"width":1143,"height":67,
"layer":[
{
"data":{"values":[{}]},
"mark":{"type":"rect","color":"#7e57c2","opacity":0.1},
"encoding":{"y":{"datum":70,"type":"quantitative","scale":{"domain":[21.88,77.95],"nice":false,"zero":false},"axis":null},"y2":{"datum":30}}
},
{
"data":{"values":[{"lv":70},{"lv":50},{"lv":30}]},
"mark":{"type":"rule","color":"#9598a1","strokeDash":[4,3],"strokeWidth":1},
"encoding":{"y":{"field":"lv","type":"quantitative","axis":null}}
},
{
"data":{"name":"candles"},
"mark":{"type":"line","color":"#7e57c2","strokeWidth":1.3,"clip":true},
"encoding":{
"x":{"field":"d","type":"temporal","scale":{"type":"utc","domain":[{"year":2023,"month":8,"date":6,"hours":12,"utc":true},{"year":2024,"month":2,"date":1,"hours":2,"minutes":15,"utc":true}]},
"axis":{"values":[{"year":2023,"month":8,"date":14,"utc":true},{"year":2023,"month":9,"date":1,"utc":true},{"year":2023,"month":9,"date":18,"utc":true},{"year":2023,"month":10,"date":1,"utc":true},{"year":2023,"month":10,"date":16,"utc":true},{"year":2023,"month":11,"date":1,"utc":true},{"year":2023,"month":11,"date":14,"utc":true},{"year":2023,"month":12,"date":1,"utc":true},{"year":2023,"month":12,"date":18,"utc":true},{"year":2024,"month":1,"date":1,"utc":true},{"year":2024,"month":1,"date":15,"utc":true},{"year":2024,"month":2,"date":1,"utc":true}],
"labelExpr":"utcdate(datum.value) == 1 ? (utcmonth(datum.value) == 0 ? utcFormat(datum.value, '%Y') : utcFormat(datum.value, '%b')) : utcFormat(datum.value, '%d')",
"grid":true,"gridColor":"#f0f3fa","ticks":false,"domain":true,"domainColor":"#b2b5be","domainWidth":1.5,
"labelColor":"#131722","labelFontSize":12,"labelFont":"Roboto","labelPadding":10,"labelOverlap":false,"labelBound":false,"labelFlush":false,
"labelFontWeight":{"condition":{"test":"utcmonth(datum.value) == 0 && utcdate(datum.value) == 1","value":"bold"},"value":"normal"},
"title":null}},
"y":{"field":"r","type":"quantitative","axis":null}
}
},
{
"data":{"name":"rsima"},
"mark":{"type":"line","color":"#fdd835","strokeWidth":1.3,"interpolate":"monotone","clip":true},
"encoding":{
"x":{"field":"d","type":"temporal"},
"y":{"field":"r","type":"quantitative","axis":null}
}
},
{
"data":{"values":[{}]},
"mark":{"type":"text","text":"35.71","align":"right","baseline":"middle","fontSize":10.5,"color":"#7e57c2","clip":true},
"encoding":{"x":{"datum":{"year":2023,"month":8,"date":9,"hours":12,"minutes":23,"utc":true},"type":"temporal"},"y":{"datum":66.2,"axis":null}}
},
{
"data":{"values":[{}]},
"mark":{"type":"text","text":"41.35","align":"left","baseline":"middle","fontSize":10.5,"color":"#f5d33f","clip":true},
"encoding":{"x":{"datum":{"year":2023,"month":8,"date":11,"hours":2,"utc":true},"type":"temporal"},"y":{"datum":66.2,"axis":null}}
},
{
"data":{"values":[{}]},
"mark":{"type":"text","text":"∅","align":"left","baseline":"middle","fontSize":12,"color":"#787b86","clip":true},
"encoding":{"x":{"datum":{"year":2023,"month":8,"date":17,"hours":1,"minutes":53,"utc":true},"type":"temporal"},"y":{"datum":66.2,"axis":null}}
},
{
"data":{"values":[{}]},
"mark":{"type":"text","text":"∅","align":"left","baseline":"middle","fontSize":12,"color":"#787b86","clip":true},
"encoding":{"x":{"datum":{"year":2023,"month":8,"date":20,"hours":4,"minutes":53,"utc":true},"type":"temporal"},"y":{"datum":66.2,"axis":null}}
}
]
}
]
}
